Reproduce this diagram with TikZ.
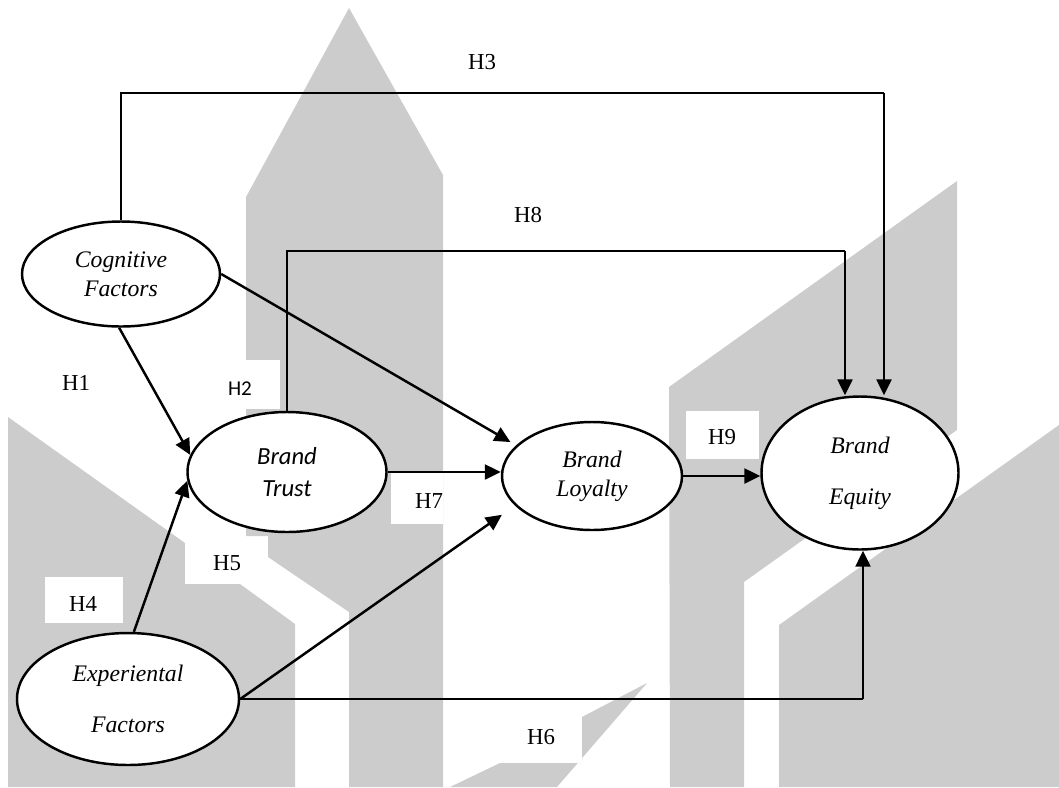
\documentclass[tikz,border=0pt]{standalone}
\usepackage{fontspec}
\setmainfont{Liberation Serif}
\newfontfamily\calibfont{Carlito}
\usetikzlibrary{arrows.meta,shapes.geometric}
\definecolor{markgray}{HTML}{CCCCCC}
\begin{document}
\begin{tikzpicture}[x=0.2mm,y=-0.2mm,
        varstyle/.style={ellipse,draw,line width=1.4pt,fill=white,inner sep=0pt,align=center,
            font=\fontsize{13.5}{16.5}\selectfont\itshape},
        pathstyle/.style={-{Triangle[length=3.2mm,width=3mm]},line width=1.4pt},
        thinstyle/.style={line width=0.8pt},
        hypstyle/.style={font=\fontsize{13}{15}\selectfont,inner sep=0pt}]
        \useasboundingbox (0,0) rectangle (1059,787);
        \pgfmathsetmacro {\topy }{93}
        \pgfmathsetmacro {\midy }{251}
        \pgfmathsetmacro {\boty }{699}

        % watermark in the back
        \fill [markgray] (349,8) -- (443,175) -- (443,787) -- (349,787) -- (349,612) -- (268,557)
            -- (268,536) -- (246,536) -- (246,197) -- cycle;
        \fill [markgray] (8,417) -- (185,543) -- (185,584) -- (240,584) -- (295,624) -- (295,787) -- (8,787) -- cycle;
        \fill [markgray] (669,387) -- (957,181) -- (957,430) -- (744,582) -- (744,787) -- (670,787) -- cycle;
        \fill [markgray] (779,625) -- (1059,425) -- (1059,787) -- (779,787) -- cycle;
        \fill [markgray] (647,683) -- (582,717) -- (582,763) -- (500,763) -- (450,787) -- (557,787) -- cycle;
        \foreach \xa/\ya/\xb/\yb in {215/360/280/409, 45/577/123/623, 185/543/240/584,
            391/473/443/524, 686/411/759/459, 500/717/582/763}
            \fill [white] (\xa,\ya) rectangle (\xb,\yb);

        \node [varstyle,minimum width=39.6mm,minimum height=21mm] (cf) at (121,274) {Cognitive\\Factors};
        \node [varstyle,minimum width=39.8mm,minimum height=24mm,
            font=\calibfont\fontsize{14}{18.5}\selectfont\itshape] (bt) at (287,472) {Brand\\Trust};
        \node [varstyle,minimum width=36mm,minimum height=21.6mm] (bl) at (592,476) {Brand\\Loyalty};
        \node [varstyle,minimum width=39.4mm,minimum height=30.6mm] (be) at (860,473) {Brand\\[12.5pt]Equity};
        \node [varstyle,minimum width=44.4mm,minimum height=26.4mm] (ef) at (128,\boty) {Experiental\\[12.5pt]Factors};

        \coordinate (h3r) at (884,\topy);
        \coordinate (h8r) at (845,\midy);
        \coordinate (h6r) at (863,\boty);

        \draw [pathstyle] (cf.-92) -- (bt.170);
        \draw [pathstyle] (ef.85) -- (bt.185);
        \draw [pathstyle,shorten >=1.3mm] (cf.east) -- (bl.158);
        \draw [pathstyle] (bt.east) -- (bt.east -| bl.west);
        \draw [pathstyle,shorten >=3.2mm] (ef.east) -- (bl.201);
        \draw [pathstyle] (bl.east) -- (bl.east -| be.west);

        \draw [thinstyle] (cf.north) |- (h3r);
        \draw [pathstyle] (h3r) -- (h3r |- be.north);
        \draw [thinstyle] (bt.north) |- (h8r);
        \draw [pathstyle] (h8r) -- (h8r |- be.north);
        \draw [thinstyle] (ef.east) -- (h6r);
        \draw [pathstyle] (h6r) -- (h6r |- be.south);

        \foreach \hyp/\px/\py in {H1/76/383, H3/482/62, H4/83/604, H5/227/563,
            H6/541/737, H7/429/501, H8/528/215, H9/722/437}
            \node [hypstyle] (\hyp) at (\px,\py) {\hyp};
        \node [hypstyle,font=\calibfont\fontsize{12}{14}\selectfont] (H2) at (240,389) {H2};
    \end{tikzpicture}
\end{document}
